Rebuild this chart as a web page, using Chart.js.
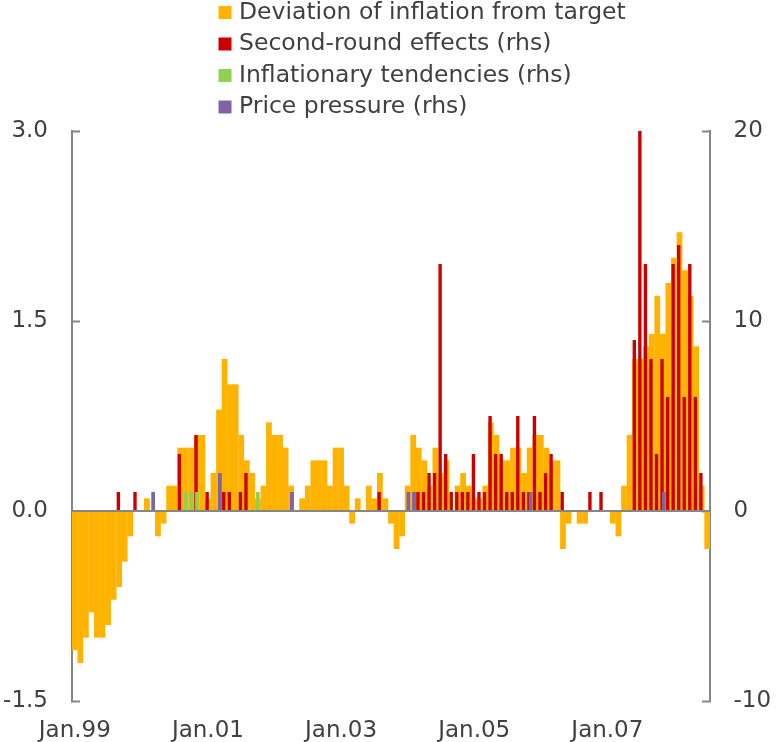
<!DOCTYPE html>
<html>
<head>
<meta charset="utf-8">
<script src="https://cdn.jsdelivr.net/npm/chart.js@4.4.1/dist/chart.umd.min.js"></script>
<style>
  html, body { margin: 0; padding: 0; background: #ffffff; }
</style>
</head>
<body>
<canvas id="inflation-chart" width="776" height="742"></canvas>
<script>
// Monthly observations, Jan 1999 - Jul 2008
const startYear = 1999;
const monthCount = 115;
const tickLabels = ["Jan.99", "Jan.01", "Jan.03", "Jan.05", "Jan.07"];

// left axis (percentage points)
const deviation = [
    -1.1, -1.2, -1.0, -0.8, -1.0, -1.0, -0.9, -0.7, -0.6, -0.4, -0.2, 0,    // 1999
    0, 0.1, 0, -0.2, -0.1, 0.2, 0.2, 0.5, 0.5, 0.5, 0.6, 0.6,               // 2000
    0.1, 0.3, 0.8, 1.2, 1.0, 1.0, 0.6, 0.4, 0.3, 0.1, 0.2, 0.7,             // 2001
    0.6, 0.6, 0.5, 0.2, 0, 0.1, 0.2, 0.4, 0.4, 0.4, 0.2, 0.5,               // 2002
    0.5, 0.2, -0.1, 0.1, 0, 0.2, 0.1, 0.3, 0.1, -0.1, -0.3, -0.2,           // 2003
    0.2, 0.6, 0.5, 0.4, 0.2, 0.5, 0.3, 0.4, 0, 0.2, 0.3, 0.2,               // 2004
    0.1, 0.1, 0.2, 0.7, 0.6, 0.4, 0.4, 0.5, 0.5, 0.3, 0.5, 0.6,             // 2005
    0.6, 0.5, 0.4, 0.4, -0.3, -0.1, 0, -0.1, -0.1, 0, 0, 0,                 // 2006
    0, -0.1, -0.2, 0.2, 0.6, 1.2, 1.2, 1.3, 1.4, 1.7, 1.4, 1.8,             // 2007
    2.0, 2.2, 1.9, 1.7, 1.3, 0.2, -0.3                                      // 2008
];

// right axis (number of indicators)
const secondRound = [
    0, 0, 0, 0, 0, 0, 0, 0, 1, 0, 0, 1,
    0, 0, 0, 0, 0, 0, 0, 3, 0, 0, 4, 0,
    1, 0, 0, 1, 1, 0, 1, 2, 0, 0, 0, 0,
    0, 0, 0, 0, 0, 0, 0, 0, 0, 0, 0, 0,
    0, 0, 0, 0, 0, 0, 0, 1, 0, 0, 0, 0,
    0, 0, 1, 1, 2, 2, 13, 3, 1, 1, 1, 1,
    3, 1, 1, 5, 3, 3, 1, 1, 5, 1, 1, 5,
    1, 2, 3, 0, 1, 0, 0, 0, 0, 1, 0, 1,
    0, 0, 0, 0, 0, 9, 20, 13, 8, 3, 8, 6,
    13, 14, 6, 13, 6, 2, 0
];

const tendencies = [
    0, 0, 0, 0, 0, 0, 0, 0, 0, 0, 0, 0,
    0, 0, 0, 0, 0, 0, 0, 0, 1, 1, 1, 0,
    0, 0, 0, 0, 0, 0, 0, 0, 0, 1, 0, 0,
    0, 0, 0, 0, 0, 0, 0, 0, 0, 0, 0, 0,
    0, 0, 0, 0, 0, 0, 0, 0, 0, 0, 0, 0,
    0, 0, 0, 0, 0, 0, 0, 0, 0, 0, 0, 0,
    0, 0, 0, 0, 0, 0, 0, 0, 0, 0, 0, 0,
    0, 0, 0, 0, 0, 0, 0, 0, 0, 0, 0, 0,
    0, 0, 0, 0, 0, 0, 0, 0, 0, 0, 0, 0,
    0, 0, 0, 0, 0, 0, 0
];

const pressure = [
    0, 0, 0, 0, 0, 0, 0, 0, 0, 0, 0, 0,
    0, 0, 1, 0, 0, 0, 0, 0, 0, 0, 0, 0,
    0, 0, 2, 0, 0, 0, 0, 0, 0, 0, 0, 0,
    0, 0, 0, 1, 0, 0, 0, 0, 0, 0, 0, 0,
    0, 0, 0, 0, 0, 0, 0, 0, 0, 0, 0, 0,
    1, 1, 0, 0, 0, 0, 0, 0, 0, 0, 0, 0,
    0, 0, 0, 0, 0, 0, 0, 0, 0, 0, 1, 0,
    0, 0, 0, 0, 0, 0, 0, 0, 0, 0, 0, 0,
    0, 0, 0, 0, 0, 0, 0, 0, 0, 0, 1, 0,
    0, 0, 0, 0, 0, 0, 0
];

const monthNames = ["Jan", "Feb", "Mar", "Apr", "May", "Jun", "Jul", "Aug", "Sep", "Oct", "Nov", "Dec"];
const months = [];
for (let i = 0; i < monthCount; i++) {
    const yy = String((startYear + Math.floor(i / 12)) % 100).padStart(2, "0");
    months.push(monthNames[i % 12] + "." + yy);
}

const textColor = "#404040";
const axisColor = "#868686";
const fontFamily = '"DejaVu Sans", "Liberation Sans", sans-serif';
Chart.defaults.font.family = fontFamily;

// legend stacked in one column, drawn on the canvas
const columnLegend = {
    id: "columnLegend",
    afterDraw(chart) {
        const ctx = chart.ctx;
        ctx.save();
        ctx.font = "23.5px " + fontFamily;
        ctx.textBaseline = "middle";
        ctx.textAlign = "left";
        chart.data.datasets.forEach((ds, i) => {
            const y = 12.5 + i * 31.5;
            ctx.fillStyle = ds.backgroundColor;
            ctx.fillRect(218.5, y - 6.5, 13, 13);
            ctx.fillStyle = textColor;
            ctx.fillText(ds.label, 239, y);
        });
        ctx.restore();
    }
};

// later rhs series sit on top of the red bars, then the category axis at zero
const redrawOnTop = {
    id: "redrawOnTop",
    afterDatasetsDraw(chart) {
        [2, 3].forEach(i => chart.getDatasetMeta(i).controller.draw());
        const ctx = chart.ctx;
        const area = chart.chartArea;
        const y0 = Math.round(chart.scales.y.getPixelForValue(0));
        ctx.save();
        ctx.strokeStyle = axisColor;
        ctx.lineWidth = 2;
        ctx.beginPath();
        ctx.moveTo(area.left, y0);
        ctx.lineTo(area.right, y0);
        ctx.stroke();
        ctx.restore();
    }
};

// fixed axis sizes; the value axes should not push the plot area up
const fixWidth = w => scale => {
    scale.width = w;
    scale.paddingTop = 0;
    scale.paddingBottom = 0;
};

new Chart(document.getElementById("inflation-chart").getContext("2d"), {
    type: "bar",
    data: {
        labels: months,
        datasets: [
            {
                label: "Deviation of inflation from target",
                data: deviation,
                yAxisID: "y",
                backgroundColor: "#FFB300",
                grouped: false,
                categoryPercentage: 1,
                barPercentage: 1.04,
                order: 4
            },
            {
                label: "Second-round effects (rhs)",
                data: secondRound,
                yAxisID: "y1",
                backgroundColor: "#CC0000",
                stack: "s1",
                order: 1
            },
            {
                label: "Inflationary tendencies (rhs)",
                data: tendencies,
                yAxisID: "y1",
                backgroundColor: "#92D050",
                stack: "s2",
                order: 2
            },
            {
                label: "Price pressure (rhs)",
                data: pressure,
                yAxisID: "y1",
                backgroundColor: "#8064A2",
                stack: "s3",
                order: 3
            }
        ]
    },
    options: {
        responsive: false,
        animation: false,
        layout: { padding: { top: 131, left: 0, right: 0, bottom: 0 } },
        datasets: {
            bar: { categoryPercentage: 0.433, barPercentage: 4.25, borderWidth: 0 }
        },
        plugins: {
            legend: { display: false },
            tooltip: { enabled: false }
        },
        scales: {
            x: {
                grid: { display: false, drawTicks: false },
                border: { display: false },
                ticks: {
                    autoSkip: false,
                    maxRotation: 0,
                    padding: 16,
                    color: textColor,
                    font: { size: 23 },
                    callback: function (value) {
                        const label = this.getLabelForValue(value);
                        return tickLabels.includes(label) ? label : "";
                    }
                },
                afterFit: scale => { scale.height = 41; }
            },
            y: {
                position: "left",
                min: -1.5,
                max: 3.0,
                ticks: {
                    stepSize: 1.5,
                    padding: 32,
                    color: textColor,
                    font: { size: 23 },
                    callback: value => value.toFixed(1)
                },
                grid: {
                    drawOnChartArea: false,
                    tickLength: -8,
                    tickColor: axisColor,
                    tickWidth: 2
                },
                border: { color: axisColor, width: 2 },
                afterFit: fixWidth(72)
            },
            y1: {
                position: "right",
                min: -10,
                max: 20,
                stacked: false,
                ticks: {
                    stepSize: 10,
                    padding: 31.5,
                    color: textColor,
                    font: { size: 23 }
                },
                grid: {
                    drawOnChartArea: false,
                    tickLength: -8,
                    tickColor: axisColor,
                    tickWidth: 2
                },
                border: { color: axisColor, width: 2 },
                afterFit: fixWidth(66)
            }
        }
    },
    plugins: [columnLegend, redrawOnTop]
});
</script>
</body>
</html>
